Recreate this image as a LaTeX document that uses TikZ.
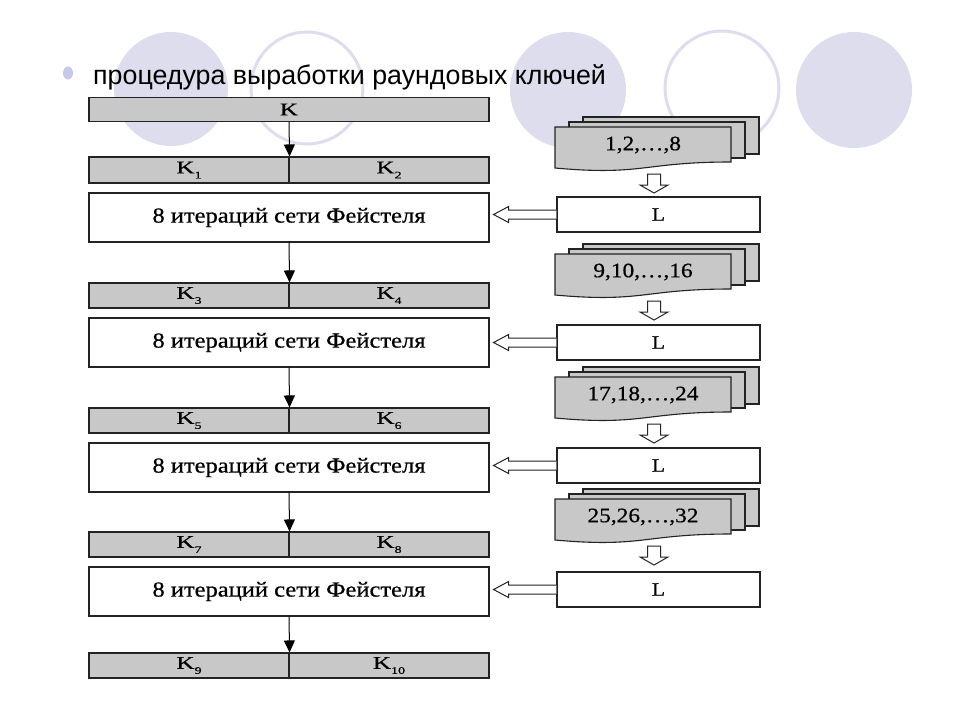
\documentclass[tikz,border=0pt]{standalone}
\usepackage{fontspec}
\setmainfont{Liberation Serif}
\newfontfamily\titlefont{Liberation Sans}
\newfontfamily\diagfont[FakeStretch=1.14, FakeBold=0.6]{Liberation Serif}
\newfontfamily\kfont[FakeStretch=1.4, FakeBold=0.6]{Liberation Serif}
\usetikzlibrary{calc,arrows.meta}
\definecolor{lav}{RGB}{221,221,238}
\definecolor{bul}{RGB}{200,200,234}
\definecolor{boxgray}{RGB}{200,200,200}
\definecolor{edge}{RGB}{35,35,35}
\newcommand\ksub[2]{#1\raisebox{-5pt}{\fontsize{10}{10}\selectfont #2}}
\begin{document}
\begin{tikzpicture}[x=1pt,y=-1pt,
  keybox/.style={draw=edge, line width=1.1pt, fill=boxgray, inner sep=0pt,
    minimum width=200pt, minimum height=25pt, font=\kfont\fontsize{18}{20}\selectfont},
  feistel/.style={draw=edge, line width=1.1pt, fill=white, inner sep=0pt,
    minimum width=400pt, minimum height=49pt, font=\diagfont\fontsize{21.5}{24}\selectfont},
  lbox/.style={draw=edge, line width=1.1pt, fill=white, inner sep=0pt,
    minimum width=203pt, minimum height=35pt, font=\diagfont\fontsize{19}{22}\selectfont},
  sheet/.style={draw=edge, line width=1.1pt, fill=boxgray},
  stacktext/.style={inner sep=0pt, font=\diagfont\fontsize{20.5}{24}\selectfont},
  karrow/.style={draw=black, line width=1pt, -{Triangle[length=12pt,width=11pt]}},
  hollow/.style={draw=edge, line width=1pt, fill=white, line join=miter},
]
\useasboundingbox (0,0) rectangle (960,720);
\fill[white] (0,0) rectangle (960,720);
% background circles
\fill[lav] (171,89) circle (57);
\draw[lav, line width=3pt] (307,88) circle (56);
\fill[lav] (568,90) circle (58);
\draw[lav, line width=3pt] (722,88) circle (57);
\fill[lav] (854,90) circle (58);
% bullet and title
\fill[bul] (68,73) ellipse (5 and 6.5);
\node[anchor=base west, inner sep=0pt, font=\titlefont\fontsize{26.8}{30}\selectfont] (title) at (93,84) {процедура выработки раундовых ключей};

% left column
\node[keybox, minimum width=400pt, minimum height=24pt] (K) at (289,109.5) {K};
\node[keybox, minimum height=26pt] (K1) at (189,170) {\ksub{K}{1}};
\node[keybox, minimum height=26pt] (K2) at (389,170) {\ksub{K}{2}};
\node[feistel] (F1) at (289,217.5) {8 итераций сети Фейстеля};
\node[keybox] (K3) at (189,295.5) {\ksub{K}{3}};
\node[keybox] (K4) at (389,295.5) {\ksub{K}{4}};
\node[feistel] (F2) at (289,342.5) {8 итераций сети Фейстеля};
\node[keybox] (K5) at (189,420.5) {\ksub{K}{5}};
\node[keybox] (K6) at (389,420.5) {\ksub{K}{6}};
\node[feistel] (F3) at (289,467.5) {8 итераций сети Фейстеля};
\node[keybox] (K7) at (189,544.5) {\ksub{K}{7}};
\node[keybox] (K8) at (389,544.5) {\ksub{K}{8}};
\node[feistel] (F4) at (289,591.5) {8 итераций сети Фейстеля};
\node[keybox] (K9) at (189,665.5) {\ksub{K}{9}};
\node[keybox] (K10) at (389,665.5) {\ksub{K}{10}};

\draw[karrow] (K.south) -- (K1.north east);
\draw[karrow] (F1.south) -- (K3.north east);
\draw[karrow] (F2.south) -- (K5.north east);
\draw[karrow] (F3.south) -- (K7.north east);
\draw[karrow] (F4.south) -- (K9.north east);

% right column: stacks, L boxes, hollow arrows
\foreach \T/\lab/\idx/\ly in {127/{1,2,\ldots,8}/1/214.5, 254/{9,10,\ldots,16}/2/342.5, 377/{17,18,\ldots,24}/3/465.5, 499/{25,26,\ldots,32}/4/589.5}{
  \draw[sheet] (583,\T-10) rectangle (759,\T+27);
  \draw[sheet] (569,\T-5) rectangle (745,\T+31);
  \draw[sheet] (555,\T) -- (731,\T) -- (731,\T+35)
     .. controls (643,\T+35) and (643,\T+49) .. (555,\T+41) -- cycle;
  \node[stacktext] (S\idx) at (643,\T+18) {\lab};
  \node[lbox] (L\idx) at (658.5,\ly) {L};
  % down hollow arrow
  \draw[hollow] (647.5,\T+47) -- (660.5,\T+47) -- (660.5,\T+58) -- (668,\T+58)
     -- (654,\T+66) -- (640,\T+58) -- (647.5,\T+58) -- cycle;
  % left hollow arrow to Feistel box
  \draw[hollow] let \p1=(L\idx.west), \p2=(F\idx.east) in
     (\x1,\y1+4.5pt) -- (\x2+19pt,\y1+4.5pt) -- (\x2+19pt,\y1+8pt)
     -- (\x2+4pt,\y1) -- (\x2+19pt,\y1-8pt) -- (\x2+19pt,\y1-4.5pt) -- (\x1,\y1-4.5pt);
}
\end{tikzpicture}
\end{document}
